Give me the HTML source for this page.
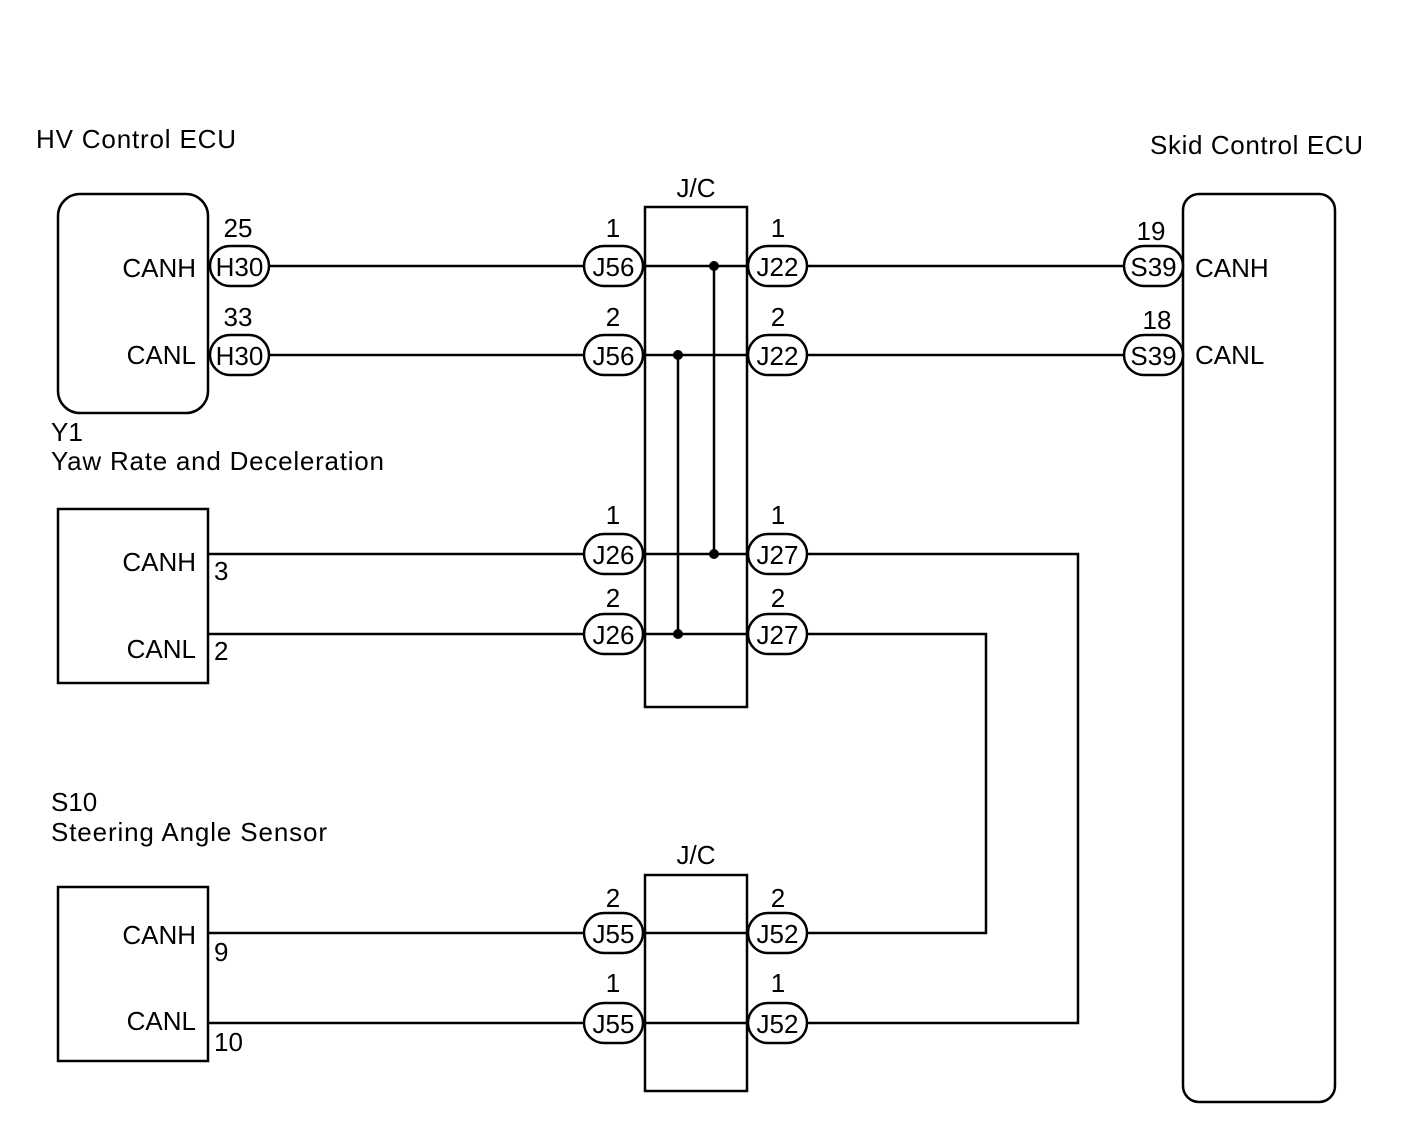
<!DOCTYPE html>
<html><head><style>body{margin:0;background:#fff}svg{display:block}text{font-family:"Liberation Sans",Arial,sans-serif;fill:#000}</style></head><body>
<svg width="1408" height="1140" viewBox="0 0 1408 1140" xmlns="http://www.w3.org/2000/svg">
<g stroke="#000" stroke-width="2.5" fill="none">
<rect x="58" y="194" width="150" height="219" rx="22"/>
<rect x="1183" y="194" width="152" height="908" rx="16"/>
<rect x="645" y="207" width="102" height="500"/>
<rect x="645" y="875" width="102" height="216"/>
<rect x="58" y="509" width="150" height="174"/>
<rect x="58" y="887" width="150" height="174"/>
<line x1="270" y1="266" x2="584" y2="266"/>
<line x1="643" y1="266" x2="748" y2="266"/>
<line x1="807" y1="266" x2="1124" y2="266"/>
<line x1="270" y1="355" x2="584" y2="355"/>
<line x1="643" y1="355" x2="748" y2="355"/>
<line x1="807" y1="355" x2="1124" y2="355"/>
<line x1="208" y1="554" x2="584" y2="554"/>
<line x1="643" y1="554" x2="748" y2="554"/>
<polyline points="807,554 1078,554 1078,1023 807,1023"/>
<line x1="208" y1="634" x2="584" y2="634"/>
<line x1="643" y1="634" x2="748" y2="634"/>
<polyline points="807,634 986,634 986,933 807,933"/>
<line x1="208" y1="933" x2="584" y2="933"/>
<line x1="643" y1="933" x2="748" y2="933"/>
<line x1="208" y1="1023" x2="584" y2="1023"/>
<line x1="643" y1="1023" x2="748" y2="1023"/>
<line x1="714" y1="266" x2="714" y2="554"/>
<line x1="678" y1="355" x2="678" y2="634"/>
<g fill="#fff">
<rect x="210" y="246" width="59" height="40" rx="20"/><rect x="210" y="335" width="59" height="40" rx="20"/>
<rect x="584" y="246" width="59" height="40" rx="20"/><rect x="584" y="335" width="59" height="40" rx="20"/>
<rect x="748" y="246" width="59" height="40" rx="20"/><rect x="748" y="335" width="59" height="40" rx="20"/>
<rect x="1124" y="246" width="59" height="40" rx="20"/><rect x="1124" y="335" width="59" height="40" rx="20"/>
<rect x="584" y="534" width="59" height="40" rx="20"/><rect x="584" y="614" width="59" height="40" rx="20"/>
<rect x="748" y="534" width="59" height="40" rx="20"/><rect x="748" y="614" width="59" height="40" rx="20"/>
<rect x="584" y="913" width="59" height="40" rx="20"/><rect x="584" y="1003" width="59" height="40" rx="20"/>
<rect x="748" y="913" width="59" height="40" rx="20"/><rect x="748" y="1003" width="59" height="40" rx="20"/>
</g>
</g>
<g fill="#000"><circle cx="714" cy="266" r="5"/><circle cx="714" cy="554" r="5"/><circle cx="678" cy="355" r="5"/><circle cx="678" cy="634" r="5"/></g>
<g font-size="26" text-anchor="middle">
<text x="239.5" y="276">H30</text><text x="239.5" y="365">H30</text>
<text x="613.5" y="276">J56</text><text x="613.5" y="365">J56</text>
<text x="777.5" y="276">J22</text><text x="777.5" y="365">J22</text>
<text x="1153.5" y="276">S39</text><text x="1153.5" y="365">S39</text>
<text x="613.5" y="564">J26</text><text x="613.5" y="644">J26</text>
<text x="777.5" y="564">J27</text><text x="777.5" y="644">J27</text>
<text x="613.5" y="943">J55</text><text x="613.5" y="1033">J55</text>
<text x="777.5" y="943">J52</text><text x="777.5" y="1033">J52</text>
<text x="238" y="237">25</text><text x="238" y="326">33</text>
<text x="613" y="237">1</text><text x="613" y="326">2</text>
<text x="778" y="237">1</text><text x="778" y="326">2</text>
<text x="1151" y="240">19</text><text x="1157" y="329">18</text>
<text x="613" y="524">1</text><text x="613" y="607">2</text>
<text x="778" y="524">1</text><text x="778" y="607">2</text>
<text x="613" y="907">2</text><text x="613" y="992">1</text>
<text x="778" y="907">2</text><text x="778" y="992">1</text>
<text x="696" y="197">J/C</text><text x="696" y="864">J/C</text>
</g>
<g font-size="26" text-anchor="end">
<text x="196" y="277">CANH</text><text x="196" y="364">CANL</text>
<text x="196" y="571">CANH</text><text x="196" y="658">CANL</text>
<text x="196" y="944">CANH</text><text x="196" y="1030">CANL</text>
</g>
<g font-size="26">
<text x="1195" y="277">CANH</text><text x="1195" y="364">CANL</text>
<text x="214" y="580">3</text><text x="214" y="660">2</text>
<text x="214" y="961">9</text><text x="214" y="1051">10</text>
<text x="36" y="148" textLength="200">HV Control ECU</text>
<text x="1150" y="154" textLength="213">Skid Control ECU</text>
<text x="51" y="441">Y1</text><text x="51" y="470" textLength="333">Yaw Rate and Deceleration</text>
<text x="51" y="811">S10</text><text x="51" y="841" textLength="276">Steering Angle Sensor</text>
</g>
</svg>
</body></html>
